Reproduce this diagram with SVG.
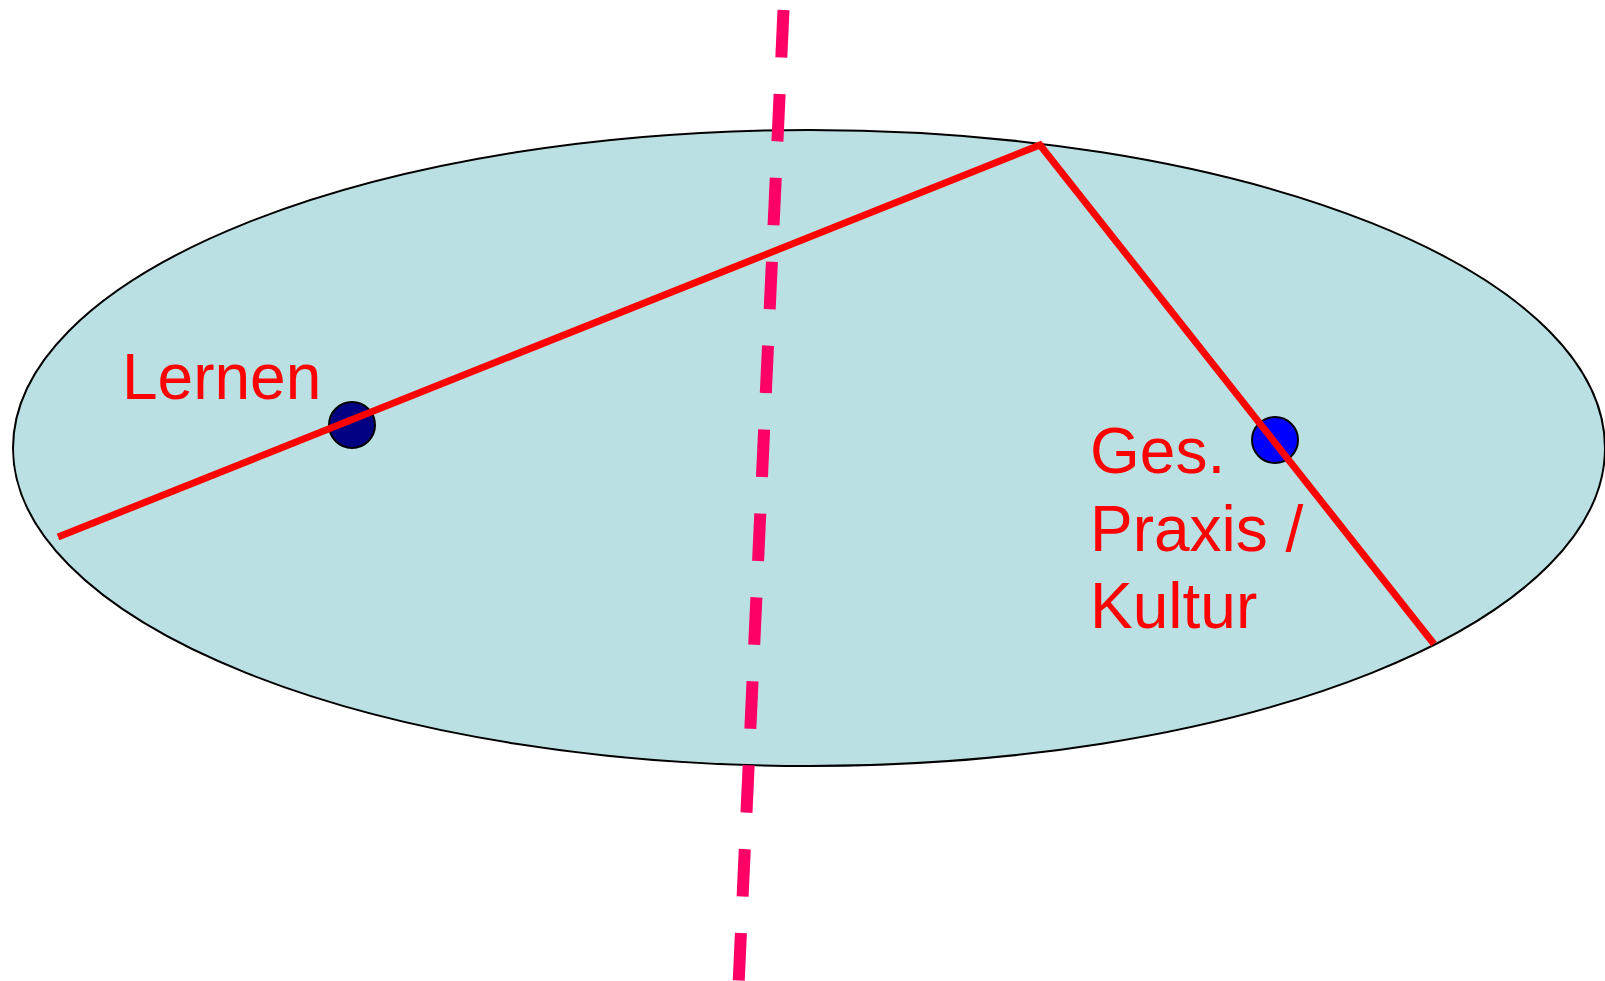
<svg xmlns="http://www.w3.org/2000/svg" width="1605" height="981" viewBox="0 0 1605 981">
<style>
.lbl{font-family:"Liberation Sans",Arial,sans-serif;font-size:64px;fill:#FF0000}
.dot{stroke:#000;stroke-width:2}
.red{stroke:#FF0000;stroke-width:7;fill:none}
</style>
<rect width="1605" height="981" fill="#fff"/>
<g id="plane">
<ellipse cx="809" cy="448" rx="796" ry="318" fill="#BBE0E3" stroke="#000" stroke-width="2"/>
</g>
<g id="lernen">
<circle class="dot" cx="352" cy="425" r="23" fill="#000080"/>
<text class="lbl" x="122" y="399">Lernen</text>
</g>
<g id="praxis">
<circle class="dot" cx="1275" cy="440" r="23" fill="#0000FF"/>
<text class="lbl" x="1090" y="473">Ges.</text>
<text class="lbl" x="1090" y="551">Praxis /</text>
<text class="lbl" x="1090" y="628">Kultur</text>
</g>
<g id="connectors">
<polyline class="red" points="58,537 1040,145 1434,644"/>
<line x1="783.5" y1="10" x2="738.7" y2="981" stroke="#FF0066" stroke-width="12" stroke-dasharray="47.5 36.5"/>
</g>
</svg>
